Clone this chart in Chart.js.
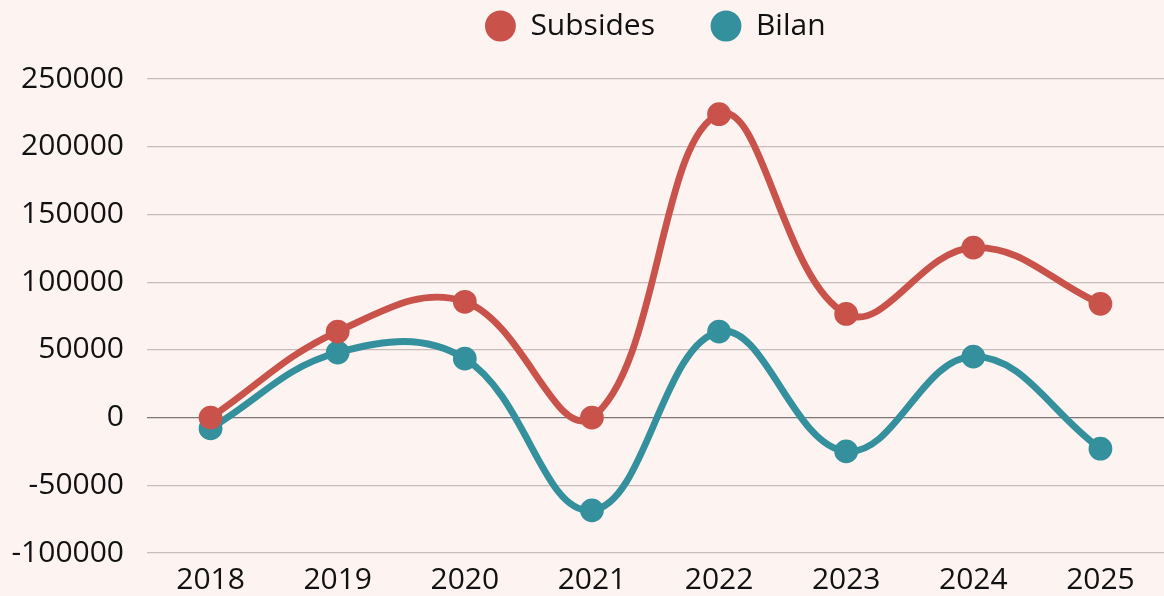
<!DOCTYPE html>
<html>
  <head>
    <title>Subsides et Bilan</title>
    <script src="https://cdn.jsdelivr.net/npm/chart.js"></script>
    <style>
      html, body { margin: 0; padding: 0; background: #fdf3f0; }
      #wrap { width: 1164px; height: 596px; }
    </style>
  </head>
  <body>
    <div id="wrap"><canvas id="chart"></canvas></div>

    <script>
      const years = ["2018", "2019", "2020", "2021", "2022", "2023", "2024", "2025"];
      const subsides = [0, 63500, 85500, 0, 224000, 76500, 125500, 84000];
      const bilan = [-8000, 48000, 43500, -68500, 63500, -25000, 45000, -23000];
      const yTicks = [-100000, -50000, 0, 50000, 100000, 150000, 200000, 250000];

      const font = { family: "'Open Sans'", size: 30 };

      const ctx = document.getElementById("chart").getContext("2d");
      new Chart(ctx, {
        type: "line",
        data: {
          labels: years,
          datasets: [
            {
              label: "Subsides",
              data: subsides,
              borderColor: "#c9524a",
              backgroundColor: "#c9524a",
              borderWidth: 6.8,
              pointRadius: 8.5,
              tension: 0.4,
            },
            {
              label: "Bilan",
              data: bilan,
              borderColor: "#33909c",
              backgroundColor: "#33909c",
              borderWidth: 6.8,
              pointRadius: 8.5,
              tension: 0.4,
            },
          ],
        },
        options: {
          responsive: true,
          maintainAspectRatio: false,
          animation: false,
          // legend sits partly above the canvas so its item spacing can be wide
          layout: { autoPadding: false, padding: { top: -45, left: 11, right: 0, bottom: 0 } },
          plugins: {
            legend: {
              fullSize: false,
              labels: {
                usePointStyle: true,
                pointStyle: "circle",
                boxWidth: 30,
                boxHeight: 17,
                padding: 56,
                color: "#111",
                font: font,
              },
            },
            // empty title used as a gap between legend and plot
            title: {
              display: true,
              text: "",
              fullSize: false,
              weight: 500,
              padding: 0,
              font: { size: 28, lineHeight: 1 },
            },
            tooltip: { enabled: false },
          },
          scales: {
            x: {
              offset: true,
              grid: { display: false, drawTicks: false },
              border: { display: false },
              ticks: { color: "#111", padding: 9, font: font },
              afterFit: (s) => { s.height = 43; },
            },
            y: {
              min: -100000,
              max: 250000,
              afterBuildTicks: (scale) => {
                scale.ticks = yTicks.map((v) => ({ value: v }));
              },
              afterFit: (s) => { s.width = 136; },
              ticks: {
                color: "#111",
                padding: 23,
                font: font,
                callback: (v) => String(v),
              },
              grid: {
                drawTicks: false,
                color: (c) => (c.tick && c.tick.value === 0 ? "#7d7575" : "#c8bcba"),
                lineWidth: 1.2,
              },
              border: { display: false },
            },
          },
        },
      });
    </script>
  </body>
</html>
